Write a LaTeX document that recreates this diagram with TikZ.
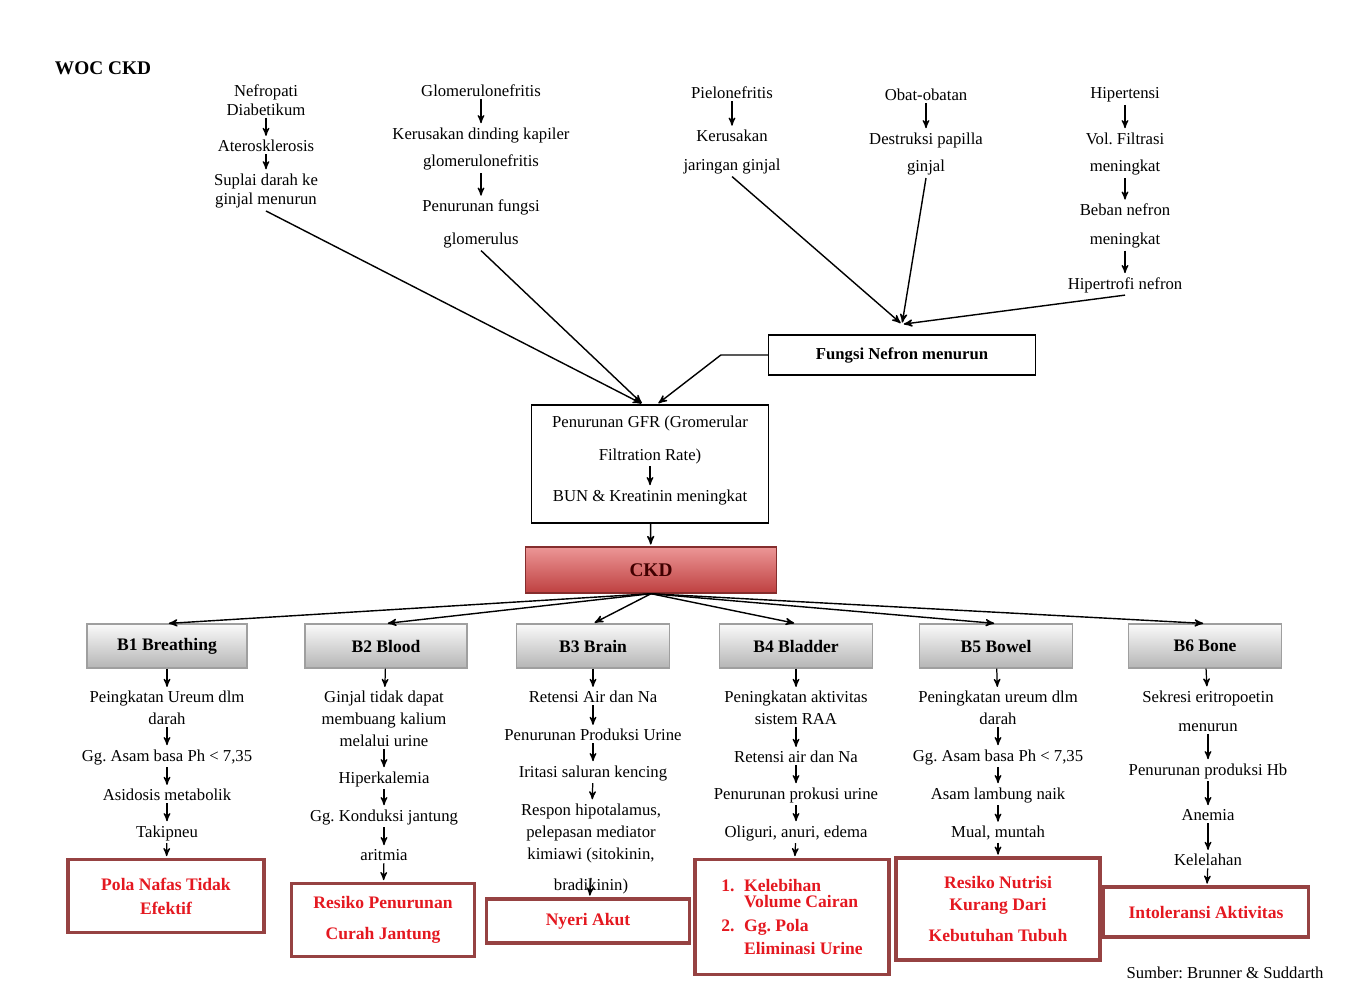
\documentclass[tikz,border=0pt]{standalone}
\usepackage{fontspec}
\setmainfont{Liberation Serif}
\usetikzlibrary{arrows}

\definecolor{dxred}{RGB}{228,24,32}
\definecolor{dxframe}{RGB}{150,66,66}
\definecolor{ckdtop}{RGB}{236,150,150}
\definecolor{ckdbot}{RGB}{190,64,64}

\begin{document}
\frenchspacing
\begin{tikzpicture}[x=0.02cm,y=-0.02cm,->,>=stealth',shorten >=1pt,line width=0.8pt,
  cause node/.style={font=\fontsize{9.5}{12.5}\selectfont,align=center,inner sep=1pt},
  b node/.style={draw=gray!75,line width=0.6pt,top color=gray!4,bottom color=gray!58,
    minimum width=3.05cm,minimum height=0.88cm,font=\bfseries\fontsize{10}{12}\selectfont},
  dx node/.style={draw=dxframe,line width=1.8pt,text=dxred,align=center,
    font=\bfseries\fontsize{10}{12.5}\selectfont}]

  \useasboundingbox (0,0) rectangle (1368,984);
  \node[font=\bfseries\fontsize{11}{13}\selectfont] (title) at (103,68) {WOC CKD};

  \node[cause node] (n1) at (266,100) {Nefropati\\[-1.7pt]Diabetikum};
  \node[cause node] (n2) at (266,146) {Aterosklerosis};
  \node[cause node] (n3) at (266,191) {Suplai darah ke\\[-1.2pt]ginjal menurun};

  \node[cause node] (m1) at (481,91) {Glomerulonefritis};
  \node[cause node] (m2) at (481,149) {Kerusakan dinding kapiler\\[3.4pt]glomerulonefritis};
  \node[cause node] (m3) at (481,224) {Penurunan fungsi\\[6.2pt]glomerulus};

  \node[cause node] (p1) at (732,93) {Pielonefritis};
  \node[cause node] (p2) at (732,152) {Kerusakan\\[4pt]jaringan ginjal};

  \node[cause node] (o1) at (926,95) {Obat-obatan};
  \node[cause node] (o2) at (926,154) {Destruksi papilla\\[3.4pt]ginjal};

  \node[cause node] (h1) at (1125,95) {Hipertensi};
  \node[cause node] (h2) at (1125,154) {Vol. Filtrasi\\[3.4pt]meningkat};
  \node[cause node] (h3) at (1125,226) {Beban nefron\\[4pt]meningkat};
  \node[cause node] (h4) at (1125,285) {Hipertrofi nefron};

  \node[draw,minimum width=5.34cm,minimum height=0.8cm,
    font=\bfseries\fontsize{9.5}{12}\selectfont] (nef) at (902,355) {Fungsi Nefron menurun};

  \node[draw,minimum width=4.74cm,minimum height=2.36cm] (gfr) at (650,464) {};
  \node[cause node] (g1) at (650,440) {Penurunan GFR (Gromerular\\[6.2pt]Filtration Rate)};
  \node[cause node] (g2) at (650,497) {BUN \& Kreatinin meningkat};

  \node[draw=ckdbot!70!black,top color=ckdtop,bottom color=ckdbot,minimum width=5.02cm,
    minimum height=0.92cm,font=\bfseries\fontsize{11}{13}\selectfont,text=black!75!red] (ckd) at (651,570) {CKD};

  \node[b node,minimum width=3.2cm] (b1) at (167,646) {B1 Breathing};
  \node[b node,minimum width=3.24cm] (b2) at (386,646) {B2 Blood};
  \node[b node] (b3) at (593,646) {B3 Brain};
  \node[b node] (b4) at (796,646) {B4 Bladder};
  \node[b node] (b5) at (996,646) {B5 Bowel};
  \node[b node] (b6) at (1205,646) {B6 Bone};

  \node[cause node] (d11) at (167,708) {Peingkatan Ureum dlm\\darah};
  \node[cause node] (d12) at (167,757) {Gg. Asam basa Ph < 7,35};
  \node[cause node] (d13) at (167,795) {Asidosis metabolik};
  \node[cause node] (d14) at (167,833) {Takipneu};
  \node[dx node,minimum width=3.92cm,minimum height=1.46cm] (r1) at (166,896) {Pola Nafas Tidak\\[1.1pt]Efektif};

  \node[cause node] (d21) at (384,719) {Ginjal tidak dapat\\membuang kalium\\melalui urine};
  \node[cause node] (d22) at (384,779) {Hiperkalemia};
  \node[cause node] (d23) at (384,817) {Gg. Konduksi jantung};
  \node[cause node] (d24) at (384,855) {aritmia};
  \node[dx node,minimum width=3.66cm,minimum height=1.46cm] (r2) at (383,920) {Resiko Penurunan\\[5.1pt]Curah Jantung};

  \node[cause node] (d31) at (593,697) {Retensi Air dan Na};
  \node[cause node] (d32) at (593,735) {Penurunan Produksi Urine};
  \node[cause node] (d33) at (593,773) {Iritasi saluran kencing};
  \node[cause node] (d34) at (591,849) {Respon hipotalamus,\\pelepasan mediator\\kimiawi (sitokinin,\\[5.6pt]bradikinin)};
  \node[dx node,minimum width=4.06cm,minimum height=0.88cm] (r3) at (588,921) {Nyeri Akut};

  \node[cause node] (d41) at (796,708) {Peningkatan aktivitas\\sistem RAA};
  \node[cause node] (d42) at (796,757) {Retensi air dan Na};
  \node[cause node] (d43) at (796,795) {Penurunan prokusi urine};
  \node[cause node] (d44) at (796,833) {Oliguri, anuri, edema};
  \node[dx node,align=left,minimum width=3.88cm,minimum height=2.3cm] (r4) at (792,917)
    {\makebox[13pt][l]{1.}Kelebihan\\[-3.4pt]\hspace*{13pt}Volume Cairan\\[1.1pt]
     \makebox[13pt][l]{2.}Gg. Pola\\[1.1pt]\hspace*{13pt}Eliminasi Urine};

  \node[cause node] (d51) at (998,708) {Peningkatan ureum dlm\\darah};
  \node[cause node] (d52) at (998,757) {Gg. Asam basa Ph < 7,35};
  \node[cause node] (d53) at (998,795) {Asam lambung naik};
  \node[cause node] (d54) at (998,833) {Mual, muntah};
  \node[dx node,minimum width=4.08cm,minimum height=2.04cm] (r5) at (998,909)
    {Resiko Nutrisi\\[0.5pt]Kurang Dari\\[5.1pt]Kebutuhan Tubuh};

  \node[cause node] (d61) at (1208,711) {Sekresi eritropoetin\\[4pt]menurun};
  \node[cause node] (d62) at (1208,771) {Penurunan produksi Hb};
  \node[cause node] (d63) at (1208,815) {Anemia};
  \node[cause node] (d64) at (1208,860) {Kelelahan};
  \node[dx node,minimum width=4.1cm,minimum height=1.0cm] (r6) at (1206,912) {Intoleransi Aktivitas};

  \node[cause node] (src) at (1225,973) {Sumber: Brunner \& Suddarth};

  \path[line width=0.7pt]
    (n1) edge (n2)
    (n2) edge (n3)
    (m1) edge (m2)
    (m2) edge (m3)
    (p1) edge (p2)
    (o1) edge (o2)
    (h1) edge (h2)
    (h2) edge (h3)
    (h3) edge (h4)
    (g1) edge (g2);

  \path
    (n3.south) edge ([xshift=-0.14cm]gfr.north)
    (m3.south) edge ([xshift=-0.14cm]gfr.north)
    (p2.south) edge ([yshift=0.2cm]nef.north)
    (o2.south) edge ([yshift=0.2cm]nef.north)
    (h4.south) edge ([yshift=0.2cm]nef.north)
    (gfr) edge (ckd);
  \draw (nef.west) -- ++(-47,0) -- ([xshift=0.14cm]gfr.north);

  \path (ckd.south) edge (b1.north) edge (b2.north) edge (b3.north)
    edge (b4.north) edge (b5.north) edge (b6.north);

  \path[line width=0.7pt]
    (b1) edge (d11) (d11) edge (d12) (d12) edge (d13) (d13) edge (d14) (d14) edge (r1)
    (b2) edge (d21) (d21) edge (d22) (d22) edge (d23) (d23) edge (d24) (d24) edge (r2)
    (b3) edge (d31) (d31) edge (d32) (d32) edge (d33) (d33) edge (d34)
    ([yshift=0.38cm]d34.south) edge (r3)
    (b4) edge (d41) (d41) edge (d42) (d42) edge (d43) (d43) edge (d44) (d44) edge (r4)
    (b5) edge (d51) (d51) edge (d52) (d52) edge (d53) (d53) edge (d54) (d54) edge (r5)
    (b6) edge (d61) (d61) edge (d62) (d62) edge (d63) (d63) edge (d64) (d64) edge (r6);
\end{tikzpicture}
\end{document}
